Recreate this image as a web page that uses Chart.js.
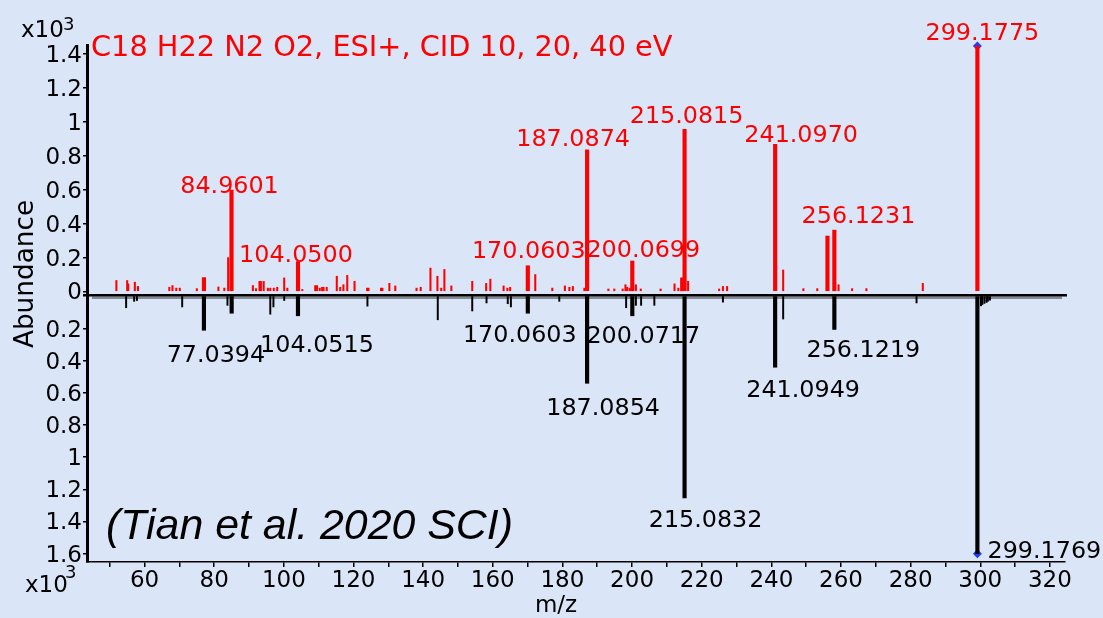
<!DOCTYPE html>
<html lang="en">
<head>
<meta charset="UTF-8">
<title>C18 H22 N2 O2 MS/MS mirror spectrum</title>
<style>
  html, body { margin: 0; padding: 0; }
  body { width: 1103px; height: 618px; overflow: hidden; background: #dae6f7; }
  #wrap { position: relative; width: 1103px; height: 618px; }
  canvas { display: block; }
</style>
</head>
<body>
<div id="wrap"><canvas id="spectrum" width="1103" height="618"></canvas></div>

<script src="https://cdn.jsdelivr.net/npm/chart.js"></script>
<script>
// ---- axis ticks ----
const mzTicks = [50, 60, 70, 80, 90, 100, 110, 120, 130, 140, 150, 160, 170, 180, 190,
                 200, 210, 220, 230, 240, 250, 260, 270, 280, 290, 300, 310, 320];
const topTicks = [0, 0.2, 0.4, 0.6, 0.8, 1, 1.2, 1.4];
const bottomTicks = [0.2, 0.4, 0.6, 0.8, 1, 1.2, 1.4, 1.6];

// ---- sample spectrum (red, upper), abundance x10^3 ----
const sampleMainMz = [77.04, 84.96, 104.05, 170.06, 187.09, 200.07, 215.08, 241.10, 256.12, 258.10, 299.18];
const sampleMainAbund = [0.082, 0.598, 0.176, 0.152, 0.836, 0.180, 0.956, 0.868, 0.327, 0.362, 1.448];

const sampleSmallMz = [51.9, 55.0, 55.3, 57.2, 58.1, 67.1, 68.0, 69.1, 70.1, 75.0, 81.2, 82.9, 84.0,
  91.1, 92.0, 93.0, 93.4, 94.2, 95.4, 96.1, 97.1, 98.1, 100.1, 101.0, 105.3, 109.0, 109.5, 110.3,
  111.0, 111.4, 112.3, 115.2, 116.2, 117.1, 118.2, 120.3, 123.9, 124.3, 127.9, 128.3, 130.3, 132.0,
  138.1, 139.3, 142.1, 144.1, 145.2, 146.1, 148.1, 154.1, 158.1, 159.3, 163.1, 164.2, 165.0, 172.2,
  177.1, 180.7, 182.0, 183.0, 186.3, 193.2, 194.9, 197.3, 198.1, 198.6, 199.3, 201.1, 202.5, 208.2,
  212.2, 213.3, 214.1, 214.4, 216.1, 225.0, 226.1, 227.3, 243.4, 249.2, 253.2, 259.3, 263.2, 267.3, 283.5];
const sampleSmallAbund = [0.065, 0.065, 0.045, 0.055, 0.03, 0.025, 0.035, 0.02, 0.02, 0.017, 0.027, 0.02, 0.2,
  0.035, 0.017, 0.06, 0.06, 0.06, 0.02, 0.02, 0.02, 0.025, 0.08, 0.02, 0.012, 0.035, 0.035, 0.02,
  0.025, 0.025, 0.025, 0.09, 0.025, 0.04, 0.095, 0.06, 0.02, 0.02, 0.02, 0.02, 0.048, 0.033,
  0.02, 0.025, 0.138, 0.09, 0.02, 0.13, 0.033, 0.06, 0.048, 0.073, 0.033, 0.02, 0.025, 0.1,
  0.02, 0.033, 0.025, 0.03, 0.02, 0.015, 0.015, 0.015, 0.04, 0.025, 0.02, 0.04, 0.015, 0.015,
  0.045, 0.02, 0.08, 0.08, 0.06, 0.015, 0.03, 0.03, 0.127, 0.017, 0.017, 0.04, 0.017, 0.017, 0.048];

// ---- reference spectrum (black, lower, mirrored) ----
const refMainMz = [77.04, 85.0, 104.05, 170.06, 187.09, 200.07, 215.08, 241.09, 258.10, 299.18];
const refMainAbund = [0.21, 0.104, 0.12, 0.104, 0.54, 0.12, 1.254, 0.44, 0.205, 1.6];

const refSmallMz = [54.7, 57.0, 57.8, 70.8, 83.8, 96.1, 97.0, 100.1, 124.0, 144.2, 154.1, 158.2,
  164.3, 165.2, 179.1, 198.3, 201.1, 202.6, 206.4, 226.1, 243.4, 281.7,
  300.2, 300.6, 301.2, 301.8, 302.2, 302.8];
const refSmallAbund = [0.07, 0.03, 0.025, 0.065, 0.055, 0.11, 0.065, 0.025, 0.06, 0.145, 0.09, 0.04,
  0.045, 0.065, 0.03, 0.07, 0.055, 0.055, 0.055, 0.035, 0.14, 0.04,
  0.058, 0.05, 0.043, 0.037, 0.03, 0.023];

// ---- peak annotations ----
const sampleLabels = ['84.9601', '104.0500', '170.0603', '187.0874', '200.0699', '215.0815', '241.0970', '256.1231', '299.1775'];
const refLabels = ['77.0394', '104.0515', '170.0603', '187.0854', '200.0717', '215.0832', '241.0949', '256.1219', '299.1769'];

// label placement relative to the peak tip (px): [dx, dy to text baseline]
const sampleLabelShift = [[-2, 3], [-2, 0], [1, -8], [-14, -4], [11, -4], [2, -6], [26, -2], [31, -13], [5, -6]];
const refLabelShift = [[12, 32], [19, 36], [-8, 29], [16, 32], [11, 27], [21, 29], [28, 30], [29, 28], [67, 4]];

const FONT = "'DejaVu Sans', sans-serif";

function toXY(xs, ys) {
  return xs.map((x, i) => ({ x: x, y: ys[i] }));
}

function maxPoint(xs, ys) {
  let k = 0;
  ys.forEach((v, i) => { if (v > ys[k]) k = i; });
  return [{ x: xs[k], y: ys[k] }];
}

function nearest(xs, mz) {
  let k = 0;
  xs.forEach((x, i) => { if (Math.abs(x - mz) < Math.abs(xs[k] - mz)) k = i; });
  return k;
}

// font size so the inked width of text equals width
function fitSize(ctx, text, style, family, width) {
  ctx.textAlign = 'left';
  ctx.font = style + ' 100px ' + family;
  const m = ctx.measureText(text);
  return 100 * width / (m.actualBoundingBoxLeft + m.actualBoundingBoxRight);
}

function drawFitted(ctx, text, style, family, left, baseline, width, color) {
  const size = fitSize(ctx, text, style, family, width);
  ctx.font = style + ' ' + size.toFixed(2) + 'px ' + family;
  ctx.textAlign = 'left';
  ctx.textBaseline = 'alphabetic';
  const m = ctx.measureText(text);
  ctx.fillStyle = color;
  ctx.fillText(text, left + m.actualBoundingBoxLeft, baseline);
}

const decor = {
  id: 'decor',
  beforeDatasetsDraw(chart) {
    const { ctx, chartArea } = chart;
    const y0 = chart.scales.yBot.getPixelForValue(0);
    ctx.save();
    // baseline of the lower spectrum with its noise floor
    ctx.fillStyle = '#000';
    ctx.fillRect(chartArea.left - 4, y0 - 2.5, chartArea.right - chartArea.left + 6, 2.5);
    ctx.fillStyle = 'rgba(0,0,0,0.4)';
    ctx.fillRect(chartArea.left + 5, y0, chartArea.right - chartArea.left - 8, 2.5);
    ctx.restore();
  },
  afterDraw(chart) {
    const { ctx } = chart;
    const x = chart.scales.x, yt = chart.scales.yTop, yb = chart.scales.yBot;
    ctx.save();

    // peak labels
    const labelSize = fitSize(ctx, '215.0815', '', FONT, 110);
    ctx.font = labelSize.toFixed(2) + 'px ' + FONT;
    ctx.textAlign = 'center';
    ctx.textBaseline = 'alphabetic';
    ctx.fillStyle = '#ff0000';
    sampleLabels.forEach((t, i) => {
      const k = nearest(sampleMainMz, parseFloat(t));
      const px = x.getPixelForValue(sampleMainMz[k]) + sampleLabelShift[i][0];
      const py = yt.getPixelForValue(sampleMainAbund[k]) + sampleLabelShift[i][1];
      ctx.fillText(t, px, py);
    });
    ctx.fillStyle = '#000';
    refLabels.forEach((t, i) => {
      const k = nearest(refMainMz, parseFloat(t));
      const px = x.getPixelForValue(refMainMz[k]) + refLabelShift[i][0];
      const py = yb.getPixelForValue(refMainAbund[k]) + refLabelShift[i][1];
      ctx.fillText(t, px, py);
    });

    // title
    drawFitted(ctx, 'C18 H22 N2 O2, ESI+, CID 10, 20, 40 eV', '', FONT, 92, 56, 580, '#ff0000');
    // citation
    drawFitted(ctx, '(Tian et al. 2020 SCI)', 'italic', "'Liberation Sans', Arial, sans-serif", 108, 539, 403, '#000');

    // axis multipliers
    ctx.fillStyle = '#000';
    ctx.textAlign = 'left';
    ctx.textBaseline = 'alphabetic';
    ctx.font = '23px ' + FONT;
    ctx.fillText('x10', 21, 37);
    ctx.fillText('x10', 25, 592);
    ctx.font = '18px ' + FONT;
    ctx.fillText('3', 63, 30);
    ctx.fillText('3', 65, 578);

    // axis titles
    ctx.save();
    const aSize = fitSize(ctx, 'Abundance', '', FONT, 147);
    ctx.translate(33, 274);
    ctx.rotate(-Math.PI / 2);
    ctx.font = aSize.toFixed(2) + 'px ' + FONT;
    ctx.textAlign = 'center';
    ctx.textBaseline = 'alphabetic';
    ctx.fillText('Abundance', 0, 0);
    ctx.restore();

    ctx.font = '23px ' + FONT;
    ctx.textAlign = 'center';
    ctx.textBaseline = 'alphabetic';
    ctx.fillText('m/z', 556, 612);

    ctx.restore();
  }
};

const tickFont = { family: FONT, size: 23 };

new Chart(document.getElementById('spectrum'), {
  type: 'bar',
  data: {
    datasets: [
      { label: 'sample', data: toXY(sampleMainMz, sampleMainAbund), yAxisID: 'yTop',
        backgroundColor: '#ff0000', barThickness: 3.5, grouped: false },
      { label: 'sample small', data: toXY(sampleSmallMz, sampleSmallAbund), yAxisID: 'yTop',
        backgroundColor: '#ff0000', barThickness: 1.4, grouped: false },
      { label: 'reference', data: toXY(refMainMz, refMainAbund), yAxisID: 'yBot',
        backgroundColor: '#000', barThickness: 3.5, grouped: false },
      { label: 'reference small', data: toXY(refSmallMz, refSmallAbund), yAxisID: 'yBot',
        backgroundColor: '#000', barThickness: 1.3, grouped: false },
      { type: 'scatter', label: 'sample max', data: maxPoint(sampleMainMz, sampleMainAbund), yAxisID: 'yTop',
        pointStyle: 'rectRot', radius: 4.5, backgroundColor: '#1f3cff', borderWidth: 0, clip: false },
      { type: 'scatter', label: 'reference max', data: maxPoint(refMainMz, refMainAbund), yAxisID: 'yBot',
        pointStyle: 'rectRot', radius: 4.5, backgroundColor: '#1f3cff', borderWidth: 0, clip: false }
    ]
  },
  options: {
    responsive: false,
    animation: false,
    devicePixelRatio: 1,
    layout: { padding: { top: 45, right: 38, bottom: 0, left: 0 } },
    plugins: { legend: { display: false }, tooltip: { enabled: false } },
    scales: {
      x: {
        type: 'linear', min: 43.46, max: 324.34, offset: false,
        grid: { display: true, drawOnChartArea: false, drawTicks: true, tickLength: 5,
                color: '#000', lineWidth: 1.5, offset: false },
        border: { display: true, color: '#000', width: 1.5 },
        ticks: { font: tickFont, color: '#000', padding: 0, autoSkip: false, maxRotation: 0,
                 callback: v => (v % 20 === 0 && v >= 60) ? String(v) : '' },
        afterBuildTicks: s => { s.ticks = mzTicks.map(v => ({ value: v })); },
        afterFit: s => { s.height = 56; }
      },
      yTop: {
        type: 'linear', position: 'left', stack: 'ms', stackWeight: 249, weight: 2,
        min: -0.0147, max: 1.4534,
        grid: { display: true, drawOnChartArea: false, drawTicks: true, tickLength: 4,
                color: '#000', lineWidth: 1.5 },
        border: { display: true, color: '#000', width: 3 },
        ticks: { font: tickFont, color: '#000', padding: 1, autoSkip: false, labelOffset: 2,
                 callback: v => String(+v.toFixed(1)) },
        afterBuildTicks: s => { s.ticks = topTicks.map(v => ({ value: v })); },
        afterFit: s => { s.width = 87; }
      },
      yBot: {
        type: 'linear', position: 'left', stack: 'ms', stackWeight: 268, weight: 1,
        reverse: true, min: -0.0156, max: 1.6521,
        grid: { display: true, drawOnChartArea: false, drawTicks: true, tickLength: 4,
                color: '#000', lineWidth: 1.5 },
        border: { display: true, color: '#000', width: 3 },
        ticks: { font: tickFont, color: '#000', padding: 1, autoSkip: false, labelOffset: 2,
                 callback: v => String(+v.toFixed(1)) },
        afterBuildTicks: s => { s.ticks = bottomTicks.map(v => ({ value: v })); },
        afterFit: s => { s.width = 87; }
      }
    }
  },
  plugins: [decor]
});
</script>
</body>
</html>
